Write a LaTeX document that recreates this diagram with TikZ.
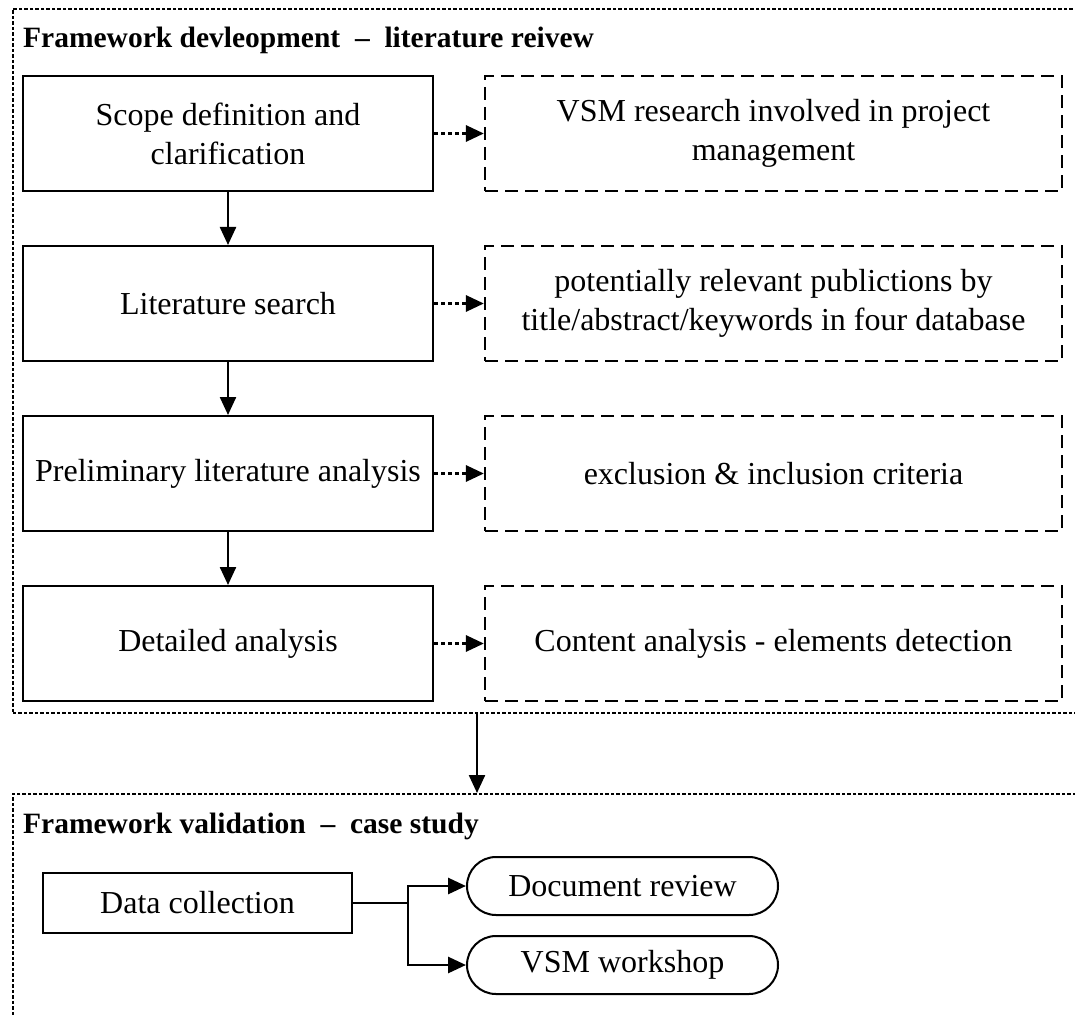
\documentclass[tikz,border=0pt]{standalone}
\usepackage{fontspec}
\setmainfont{Liberation Serif}
\usetikzlibrary{arrows.meta,positioning}

\begin{document}
\begin{tikzpicture}[x=1pt,y=-1pt,
  every node/.style={font=\fontsize{32}{39}\selectfont, align=center, inner sep=0pt},
  framebox/.style={draw, line width=1.8pt, dash pattern=on 3.5pt off 2pt, anchor=north west},
  heading/.style={font=\fontsize{29.5}{34}\selectfont\bfseries, anchor=base west},
  stepbox/.style={draw, line width=2pt, minimum width=410pt, minimum height=115pt},
  notebox/.style={draw, line width=2.2pt, dash pattern=on 13pt off 7pt, minimum width=577pt, minimum height=115pt},
  pillbox/.style={draw, line width=2pt, rounded corners=29pt, minimum width=311pt, minimum height=58pt},
  arr/.style={line width=2.4pt, -{Triangle[length=18pt,width=16pt]}},
  dotarr/.style={line width=3pt, dash pattern=on 4pt off 3pt, -{Triangle[length=18pt,width=16pt]}},
  branch/.style={line width=2.8pt, -{Triangle[length=18pt,width=16pt]}}
]
\useasboundingbox (0,0) rectangle (1075,1016);
\clip (0,0) rectangle (1075,1016);

% section frames (they run past the right and bottom edges)
\node[framebox, minimum width=1080pt, minimum height=704pt] (devframe) at (12,8) {};
\node[framebox, minimum width=1080pt, minimum height=240pt] (valframe) at (12,793) {};

\node[heading] (devtitle) at (23,48) {Framework devleopment\hspace{0.5em}–\hspace{0.5em}literature reivew};
\node[heading] (valtitle) at (23,833) {Framework validation\hspace{0.5em}–\hspace{0.5em}case study};

% literature review steps
\node[stepbox] (scope)  at (228,133.5) {Scope definition and\\clarification};
\node[stepbox] (search) at (228,303.5) {Literature search};
\node[stepbox] (prelim) at (228,473.5) {Preliminary literature analysis};
\node[stepbox] (detail) at (228,643.5) {Detailed analysis};

% notes on each step
\node[notebox] (scopenote)  at (773.5,133.5) {VSM research involved in project\\management};
\node[notebox] (searchnote) at (773.5,303.5) {potentially relevant publictions by\\title/abstract/keywords in four database};
\node[notebox] (prelimnote) at (773.5,473.5) {exclusion \& inclusion criteria};
\node[notebox] (detailnote) at (773.5,643.5) {Content analysis - elements detection};

\draw[arr] (scope) -- (search);
\draw[arr] (search) -- (prelim);
\draw[arr] (prelim) -- (detail);

\draw[dotarr] (scope.east) -- (scopenote.west);
\draw[dotarr] (search.east) -- (searchnote.west);
\draw[dotarr] (prelim.east) -- (prelimnote.west);
\draw[dotarr] (detail.east) -- (detailnote.west);

% link between the two sections
\coordinate (gatex) at (477,0);
\draw[arr] (devframe.south -| gatex) -- (valframe.north -| gatex);

% case study
\node[draw, line width=2pt, minimum width=309pt, minimum height=60pt] (data) at (197.5,903) {Data collection};
\node[pillbox] (docs) at (622.5,886) {Document review};
\node[pillbox] (workshop) at (622.5,965) {VSM workshop};

\coordinate (split) at (408,903);
\draw[line width=2.8pt] (data.east) -- (split);
\draw[branch] (split) |- (docs.west);
\draw[branch] (split) |- (workshop.west);
\end{tikzpicture}
\end{document}
